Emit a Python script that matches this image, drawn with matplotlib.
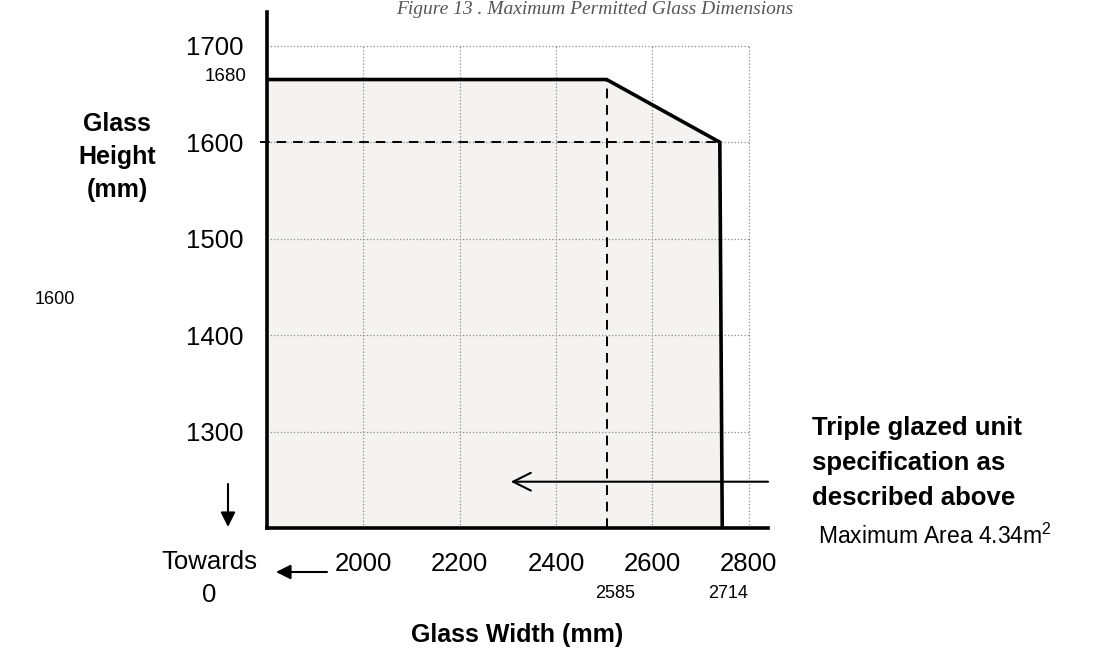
import matplotlib
matplotlib.use('Agg')
import matplotlib.pyplot as plt
from matplotlib.patches import FancyArrowPatch

plt.rcParams['font.family'] = ['Liberation Sans', 'DejaVu Sans']

# envelope of permitted sizes (as drawn on the diagram)
outline_x = [1800, 1800, 2505, 2740, 2745]
outline_y = [1200, 1665, 1665, 1600, 1200]
x_ticks = [2000, 2200, 2400, 2600, 2800]
y_ticks = [1300, 1400, 1500, 1600, 1700]
ref_height = 1600
corner_x = 2505
corner_labels = ['2585', '2714']
top_label = '1680'
arrow_y = 1248
arrow_tip = 2306

W, H = 1098, 656
fig = plt.figure(figsize=(W / 100, H / 100), dpi=100, facecolor='white')
ax = fig.add_axes([267 / W, 1 - 528 / H, (768 - 267) / W, (528 - 12) / H])
ax.set_xlim(1800, 2840)
ax.set_ylim(1200, 1735)

# grid, only inside the 1800-2800 / 1200-1700 box
for x in x_ticks:
    ax.plot([x, x], [1200, 1700], color='#8a8a8a', lw=0.9, ls=':', zorder=2)
for y in y_ticks:
    ax.plot([1800, 2800], [y, y], color='#8a8a8a', lw=0.9, ls=':', zorder=2)

ax.fill(outline_x, outline_y, color='#f4f3ef', zorder=1)
ax.plot(outline_x[1:], outline_y[1:], color='black', lw=2.6, zorder=4,
        solid_joinstyle='miter')

# reference lines
ax.plot([1785, outline_x[3]], [ref_height, ref_height], color='black', lw=1.4,
        ls=(0, (5, 3.5)), zorder=3, clip_on=False)
ax.plot([corner_x, corner_x], [1200, outline_y[2]], color='black', lw=1.4,
        ls=(0, (5, 3.5)), zorder=3)

ax.annotate('', xy=(arrow_tip, arrow_y), xytext=(2840, arrow_y),
            arrowprops=dict(arrowstyle='->', lw=1.5, color='black',
                            mutation_scale=32, shrinkA=0, shrinkB=0), zorder=5)

for side in ['top', 'right']:
    ax.spines[side].set_visible(False)
for side in ['left', 'bottom']:
    ax.spines[side].set_linewidth(2.6)
ax.set_facecolor('none')

ax.set_xticks(x_ticks)
ax.set_yticks(y_ticks)
ax.tick_params(length=0, labelsize=18.5)
ax.tick_params(axis='x', pad=17)
ax.tick_params(axis='y', pad=17)

# small value labels
ax.annotate(top_label, xy=(1800, outline_y[1]), xytext=(-15, 2),
            textcoords='offset points', fontsize=13.5, ha='right', va='center')
fig.text(615 / W, 1 - 594 / H, corner_labels[0], fontsize=13, ha='center', va='center')
fig.text(728 / W, 1 - 594 / H, corner_labels[1], fontsize=13, ha='center', va='center')
fig.text(55 / W, 1 - 300 / H, '1600', fontsize=13, ha='center', va='center')

fig.text(209 / W, 1 - 562 / H, 'Towards', fontsize=18.5, ha='center', va='center')
fig.text(209 / W, 1 - 595 / H, '0', fontsize=18.5, ha='center', va='center')

fig.text(117 / W, 1 - 157 / H, 'Glass\nHeight\n(mm)', fontsize=18, fontweight='bold',
         ha='center', va='center', linespacing=1.45)
fig.text(517 / W, 1 - 635 / H, 'Glass Width (mm)', fontsize=18, fontweight='bold',
         ha='center', va='center')
fig.text(812 / W, 1 - 463 / H, 'Triple glazed unit\nspecification as\ndescribed above',
         fontsize=18.5, fontweight='bold', ha='left', va='center', linespacing=1.6)
fig.text(818 / W, 1 - 536 / H, r'Maximum Area 4.34m$^{\mathregular{2}}$', fontsize=16.5,
         ha='left', va='center')

fig.text(595 / W, 1 - 9 / H, 'Figure 13 . Maximum Permitted Glass Dimensions',
         fontsize=14, family='Liberation Serif', style='italic', color='#555555',
         ha='center', va='center')

# pointer arrows outside the plot
fig.add_artist(FancyArrowPatch(
    (327, H - 572), (276, H - 572), transform=None, arrowstyle='-|>',
    mutation_scale=22, lw=1.5, color='black', shrinkA=0, shrinkB=0))
fig.add_artist(FancyArrowPatch(
    (228, H - 484), (228, H - 527), transform=None, arrowstyle='-|>',
    mutation_scale=22, lw=1.5, color='black', shrinkA=0, shrinkB=0))

fig.savefig('out.png', dpi=100)
